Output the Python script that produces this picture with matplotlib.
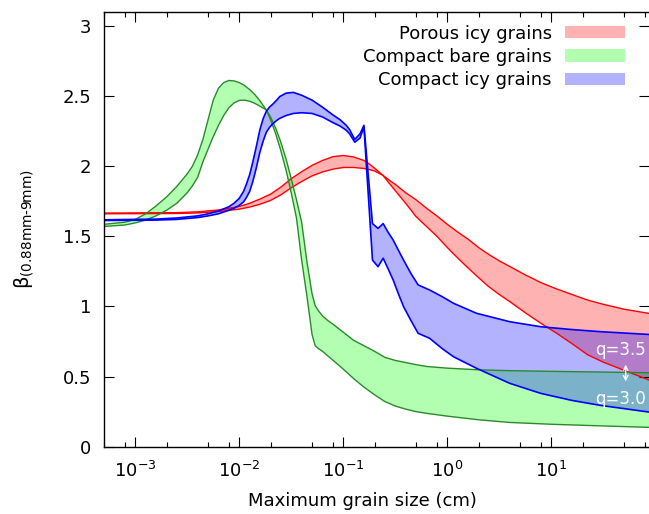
import matplotlib
matplotlib.use('Agg')
import matplotlib.pyplot as plt
from matplotlib.patches import Patch
from matplotlib.ticker import LogLocator, NullFormatter

# grain sizes (cm) and beta values
red_x = [5.0e-4, 2.51e-3, 3.98e-3, 6.31e-3, 1.0e-2, 1.26e-2, 1.58e-2, 2.0e-2, 2.51e-2,
         3.16e-2, 3.98e-2, 5.01e-2, 6.31e-2, 7.94e-2, 0.1, 0.126, 0.158, 0.178, 0.2,
         0.24, 0.282, 0.316, 0.398, 0.501, 0.631, 0.794, 1.0, 1.26, 1.58, 2.0, 2.51,
         3.16, 3.98, 5.62, 7.94, 11.2, 15.8, 22.4, 31.6, 50.1, 87.1]
red_q30 = [1.665, 1.668, 1.674, 1.687, 1.712, 1.735, 1.765, 1.80, 1.85, 1.91, 1.96,
           2.005, 2.04, 2.067, 2.075, 2.065, 2.04, 2.015, 1.985, 1.935, 1.87, 1.825,
           1.735, 1.64, 1.57, 1.50, 1.42, 1.345, 1.275, 1.205, 1.14, 1.085, 1.035,
           0.955, 0.88, 0.81, 0.735, 0.655, 0.603, 0.545, 0.475]
red_q35 = [1.66, 1.662, 1.666, 1.676, 1.693, 1.708, 1.728, 1.755, 1.795, 1.845, 1.89,
           1.93, 1.958, 1.978, 1.99, 1.99, 1.983, 1.975, 1.965, 1.935, 1.895, 1.87,
           1.81, 1.76, 1.70, 1.645, 1.585, 1.53, 1.48, 1.42, 1.37, 1.325, 1.285,
           1.225, 1.17, 1.125, 1.085, 1.045, 1.015, 0.98, 0.95]

green_x = [5.0e-4, 7.94e-4, 1.0e-3, 1.26e-3, 1.58e-3, 2.0e-3, 2.51e-3, 3.16e-3, 3.55e-3,
           3.98e-3, 4.47e-3, 5.01e-3, 5.62e-3, 6.31e-3, 7.08e-3, 7.94e-3, 8.91e-3,
           1.0e-2, 1.12e-2, 1.26e-2, 1.41e-2, 1.58e-2, 1.82e-2, 2.0e-2, 2.24e-2,
           2.51e-2, 2.82e-2, 3.16e-2, 3.55e-2, 3.98e-2, 4.47e-2, 5.01e-2, 5.37e-2,
           5.75e-2, 6.31e-2, 7.08e-2, 7.94e-2, 0.1, 0.126, 0.158, 0.2, 0.251, 0.316,
           0.398, 0.501, 0.631, 1.0, 2.0, 3.98, 10, 31.6, 87.1]
green_q30 = [1.585, 1.60, 1.62, 1.66, 1.715, 1.78, 1.855, 1.945, 2.0, 2.08, 2.19, 2.33,
             2.47, 2.555, 2.595, 2.61, 2.607, 2.595, 2.575, 2.545, 2.51, 2.465, 2.40,
             2.33, 2.23, 2.11, 1.97, 1.81, 1.63, 1.33, 1.075, 0.80, 0.72, 0.70, 0.68,
             0.648, 0.617, 0.553, 0.485, 0.425, 0.37, 0.322, 0.29, 0.268, 0.25, 0.238,
             0.218, 0.192, 0.173, 0.16, 0.148, 0.138]
green_q35 = [1.57, 1.58, 1.595, 1.615, 1.645, 1.685, 1.735, 1.81, 1.86, 1.92, 2.03, 2.12,
             2.21, 2.29, 2.36, 2.415, 2.45, 2.468, 2.47, 2.462, 2.447, 2.427, 2.40,
             2.35, 2.27, 2.17, 2.05, 1.91, 1.76, 1.60, 1.32, 1.09, 1.005, 0.97, 0.933,
             0.90, 0.874, 0.816, 0.758, 0.72, 0.68, 0.637, 0.615, 0.60, 0.585, 0.572,
             0.56, 0.548, 0.542, 0.537, 0.532, 0.527]

blue_x = [5.0e-4, 1.58e-3, 2.51e-3, 3.98e-3, 5.01e-3, 6.31e-3, 7.94e-3, 8.91e-3, 1.0e-2,
          1.1e-2, 1.17e-2, 1.26e-2, 1.35e-2, 1.45e-2, 1.58e-2, 1.7e-2, 1.82e-2, 1.95e-2,
          2.09e-2, 2.29e-2, 2.45e-2, 2.82e-2, 3.31e-2, 3.98e-2, 5.01e-2, 6.31e-2,
          7.94e-2, 9.33e-2, 0.107, 0.115, 0.129, 0.145, 0.158, 0.191, 0.216, 0.242,
          0.269, 0.302, 0.339, 0.38, 0.447, 0.525, 0.676, 0.891, 1.15, 1.91, 3.98,
          7.94, 15.8, 29.5, 87.1]
blue_q35 = [1.617, 1.622, 1.63, 1.645, 1.66, 1.68, 1.71, 1.735, 1.77, 1.82, 1.87, 1.94,
            2.03, 2.13, 2.26, 2.34, 2.39, 2.42, 2.44, 2.47, 2.495, 2.52, 2.525, 2.505,
            2.47, 2.42, 2.365, 2.33, 2.29, 2.26, 2.19, 2.23, 2.29, 1.59, 1.556, 1.59,
            1.53, 1.473, 1.40, 1.33, 1.235, 1.153, 1.117, 1.07, 1.022, 0.951, 0.891,
            0.855, 0.835, 0.82, 0.80]
blue_q30 = [1.612, 1.615, 1.62, 1.633, 1.645, 1.66, 1.685, 1.70, 1.72, 1.745, 1.775,
            1.82, 1.89, 1.98, 2.10, 2.18, 2.24, 2.275, 2.30, 2.325, 2.34, 2.36, 2.375,
            2.38, 2.375, 2.35, 2.31, 2.285, 2.255, 2.23, 2.17, 2.20, 2.28, 1.33, 1.283,
            1.343, 1.27, 1.188, 1.09, 0.998, 0.90, 0.808, 0.773, 0.70, 0.641, 0.559,
            0.452, 0.38, 0.33, 0.295, 0.247]

labels = ['Porous icy grains', 'Compact bare grains', 'Compact icy grains']
y_ticks = [0, 0.5, 1, 1.5, 2, 2.5, 3]
y_ticklabels = ['0', '0.5', '1', '1.5', '2', '2.5', '3']

plt.rcParams['font.family'] = 'DejaVu Sans'
plt.rcParams['font.size'] = 13
plt.rcParams['mathtext.default'] = 'regular'

fig = plt.figure(figsize=(6.49, 5.14), dpi=100)
ax = fig.add_axes([0.1602, 0.1309, 0.8398, 0.8463])

bands = [
    (red_x, red_q30, red_q35, 'red', 'red', 1.0),
    (green_x, green_q30, green_q35, '#00ff00', '#2a8a2a', 1.0),
    (blue_x, blue_q30, blue_q35, 'blue', 'blue', 1.2),
]
for x, y1, y2, fc, ec, lw in bands:
    ax.fill_between(x, y1, y2, facecolor=fc, alpha=0.3, lw=0)
    ax.plot(x, y1, color=ec, lw=lw)
    ax.plot(x, y2, color=ec, lw=lw)

ax.set_xscale('log')
ax.set_xlim(5.0e-4, 87.1)
ax.set_ylim(0, 3.1)
ax.set_yticks(y_ticks)
ax.set_yticklabels(y_ticklabels)
ax.xaxis.set_major_locator(LogLocator(base=10, numticks=20))
ax.xaxis.set_minor_locator(LogLocator(base=10, subs=(2, 5, 8), numticks=20))
ax.xaxis.set_minor_formatter(NullFormatter())

ax.tick_params(which='both', direction='in', top=True, right=True, width=0.8)
ax.tick_params(which='major', length=7)
ax.tick_params(which='minor', length=3.5)
ax.tick_params(axis='x', which='major', pad=10)
ax.tick_params(axis='y', which='major', pad=9)
ax.spines['right'].set_visible(False)
for s in ['left', 'bottom', 'top']:
    ax.spines[s].set_linewidth(1.0)

ax.set_xlabel('Maximum grain size (cm)')
ax.xaxis.set_label_coords(0.474, -0.105)
ax.set_ylabel('$\\beta_{(0.88mm\u20109mm)}$', fontsize=14)
ax.yaxis.set_label_coords(-0.125, 0.5)

# q labels at the right edge
ax.text(46, 0.69, 'q=3.5', color='white', ha='center', va='center', fontsize=12)
ax.text(46, 0.34, 'q=3.0', color='white', ha='center', va='center', fontsize=12)
ax.annotate('', xy=(52, 0.445), xytext=(52, 0.605),
            arrowprops=dict(arrowstyle='<->', color='white', lw=1, mutation_scale=8))

handles = [Patch(facecolor=c, alpha=0.3, lw=0) for c in ['red', '#00ff00', 'blue']]
ax.legend(handles, labels, loc='upper right', bbox_to_anchor=(0.956, 0.97),
          frameon=False, markerfirst=False, handlelength=3.3, handleheight=0.65,
          handletextpad=0.75, labelspacing=0.28, borderpad=0, borderaxespad=0,
          fontsize=13)

plt.savefig('out.png', dpi=100)
